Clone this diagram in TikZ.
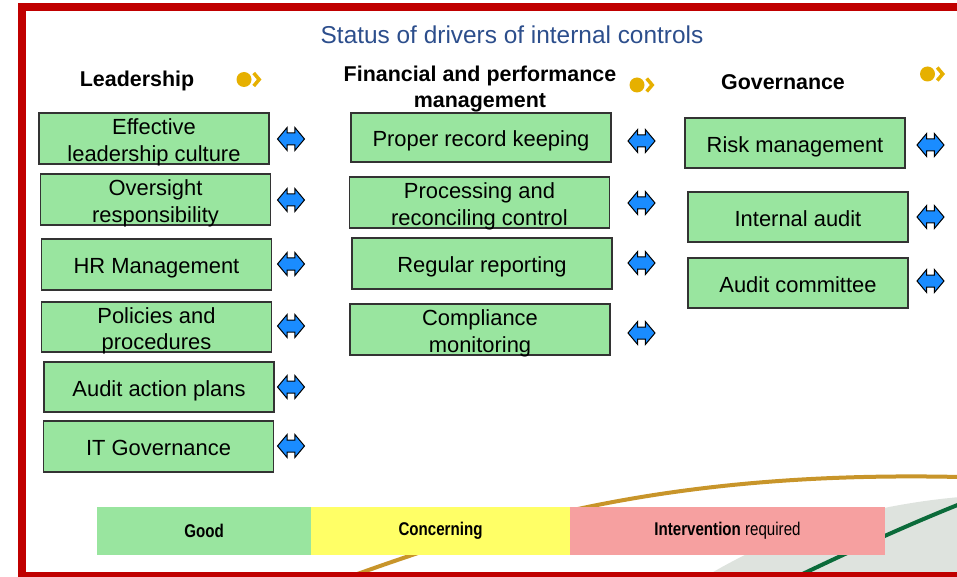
\documentclass[tikz,border=0pt]{standalone}
\usepackage{fontspec}
\setmainfont{Liberation Sans}
\newfontfamily\narrowfont[FakeStretch=0.82]{Liberation Sans}
\usetikzlibrary{shapes,positioning,arrows,calc}
\definecolor{framered}{HTML}{C00000}
\definecolor{titleblue}{HTML}{2C4E8C}
\definecolor{boxgreen}{HTML}{99E59F}
\definecolor{legyellow}{HTML}{FFFF66}
\definecolor{legpink}{HTML}{F6A0A0}
\definecolor{arrblue}{HTML}{1A8CFF}
\definecolor{dotgold}{HTML}{E6B000}
\definecolor{swoopgold}{HTML}{C8952A}
\definecolor{swoopgreen}{HTML}{0B6B3A}
\definecolor{swoopgrey}{HTML}{DEE3DE}
\newcommand{\topstrut}{\rule{0pt}{23.8bp}}
\newcommand{\headtop}{\rule{0pt}{20.4bp}}
\newcommand{\botstrut}{\rule[-5bp]{0pt}{5bp}}
\newcommand{\twoline}[3][\topstrut]{#1#2\\#3}
\tikzstyle{drv}=[draw=black!80, fill=boxgreen, line width=1.2bp, minimum height=50bp, align=center, inner xsep=0, inner ysep=-3bp, font=\fontsize{22}{26.5}\selectfont, execute at begin node=\topstrut, execute at end node=\botstrut]
\tikzset{
  lead/.style={drv, minimum width=230bp},
  fin/.style={drv, minimum width=260bp},
  gov/.style={drv, minimum width=220bp},
  head/.style={align=center, inner sep=0, font=\fontsize{21.5}{26}\selectfont\bfseries, execute at begin node=\headtop, execute at end node=\botstrut},
  dblarr/.style={double arrow, draw=black, fill=arrblue, line width=1bp, minimum height=27bp, minimum width=22bp, double arrow head extend=5.5bp, double arrow tip angle=100, inner xsep=0, inner ysep=5.5bp},
  dot/.style={circle, fill=dotgold, minimum size=15bp, inner sep=0},
  chev/.style={dotgold, line width=3.5bp},
  leg/.style={minimum height=48bp, inner sep=0, font=\narrowfont\fontsize{18.5}{22}\selectfont}
}
\newcommand{\drawarr}{\node[dblarr]}
\newcommand{\drawdot}{\node[dot]}

\begin{document}
\begin{tikzpicture}[x=1bp,y=-1bp]
	\useasboundingbox (0,0) rectangle (957,577);
	\clip (0,0) rectangle (957,577);
	
	% swooshes behind the key
	\fill[swoopgrey] (700,580) .. controls (780,530) and (870,505) .. (960,497) -- (960,580) -- cycle;
	\draw[swoopgold, line width=4bp] (335,582) .. controls (480,530) and (650,470) .. (960,477);
	\draw[swoopgreen, line width=4bp] (790,580) .. controls (840,556) and (900,528) .. (960,504);
	
	\draw[framered, line width=8bp] (22,7) rectangle (975,576);
	
	\node[titleblue, font=\fontsize{24.5}{29}\selectfont] (title) at (512,35) {Status of drivers of internal controls};
	
	\node[head] (lead) at (137,79) {Leadership};
	\node[head] (fin) at (480,87) {\twoline[\headtop]{Financial and performance}{management}};
	\node[head] (gov) at (783,82) {Governance};
	
	\drawdot (d1) at (244,79.5) {};
	\drawdot (d2) at (637,85) {};
	\drawdot (d3) at (927.5,74) {};
	\draw[chev] (d1.east) ++(2,-6.5) -- ++(5.5,6.5) -- ++(-5.5,6.5);
	\draw[chev] (d2.east) ++(2,-6.5) -- ++(5.5,6.5) -- ++(-5.5,6.5);
	\draw[chev] (d3.east) ++(2,-6.5) -- ++(5.5,6.5) -- ++(-5.5,6.5);
	
	\node[lead, minimum height=51bp] (l1) at (154,138.5) {\twoline{Effective}{leadership culture}};
	\node[lead, minimum height=51bp] (l2) at (155.5,199.5) {\twoline{Oversight}{responsibility}};
	\node[lead, minimum height=51bp] (l3) at (156.5,264.5) {HR Management};
	\node[lead] (l4) at (156.5,327) {\twoline{Policies and}{procedures}};
	\node[lead] (l5) at (159,387) {Audit action plans};
	\node[lead, minimum height=51bp] (l6) at (158.5,446.5) {IT Governance};
	
	\node[fin, minimum height=49bp] (f1) at (481,137.5) {Proper record keeping};
	\node[fin, minimum height=51bp] (f2) at (479.5,202.5) {\twoline{Processing and}{reconciling control}};
	\node[fin, minimum height=51bp] (f3) at (482,263.5) {Regular reporting};
	\node[fin, minimum height=51bp] (f4) at (480,329.5) {\twoline{Compliance}{monitoring}};
	
	\node[gov] (g1) at (795,143) {Risk management};
	\node[gov] (g2) at (798,217) {Internal audit};
	\node[gov] (g3) at (798,283) {Audit committee};
	
	\drawarr (al1) at (291,139) {};
	\drawarr (al2) at (291,200) {};
	\drawarr (al3) at (291,264) {};
	\drawarr (al4) at (291,326) {};
	\drawarr (al5) at (291,387) {};
	\drawarr (al6) at (291,446) {};
	\drawarr (af1) at (641.5,141) {};
	\drawarr (af2) at (641.5,203) {};
	\drawarr (af3) at (641.5,263) {};
	\drawarr (af4) at (641.5,333) {};
	\drawarr (ag1) at (930.5,145) {};
	\drawarr (ag2) at (930.5,217) {};
	\drawarr (ag3) at (930.5,281) {};
	
	% key
	\node[leg, fill=boxgreen, minimum width=214bp] (good) at (204,531) {\bfseries Good};
	\node[leg, fill=legyellow, minimum width=259bp] (concern) at (440.5,531) {\raisebox{2bp}{\bfseries Concerning}};
	\node[leg, fill=legpink, minimum width=315bp] (interv) at (727.5,531) {\textbf{Intervention} required};
	
\end{tikzpicture}
\end{document}
